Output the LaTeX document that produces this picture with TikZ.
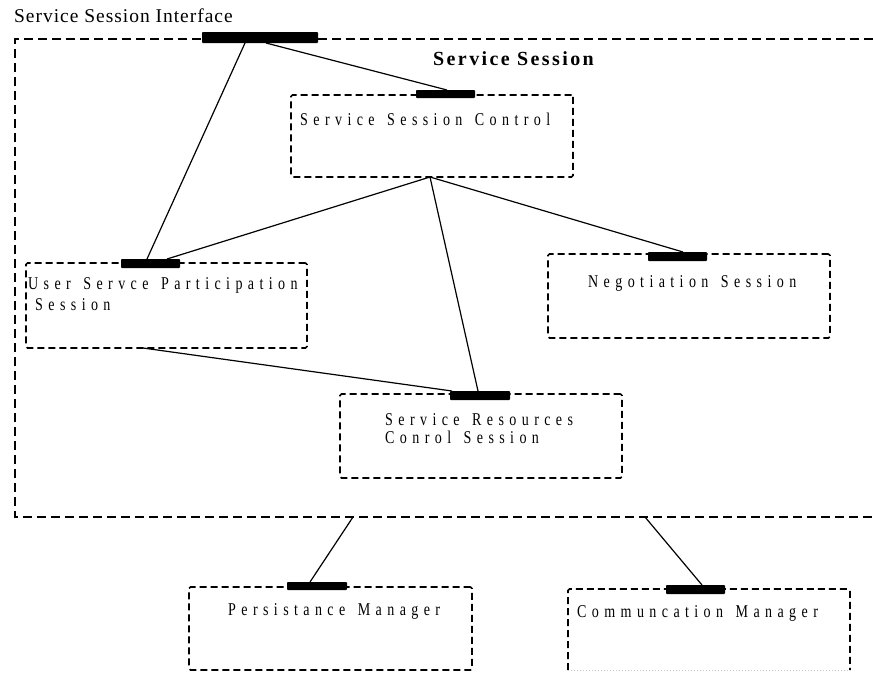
\documentclass[tikz,border=0pt]{standalone}
\usepackage{fontspec}
\setmainfont{Liberation Serif}
% spaced, slightly condensed face for the component names
\newfontfamily\boxfont[FakeStretch=0.78,LetterSpace=30,WordSpace=1.4]{Liberation Serif}
\newfontfamily\labelfont[LetterSpace=5]{Liberation Serif}
\newfontfamily\titlefont[LetterSpace=12]{Liberation Serif}
\begin{document}
\begin{tikzpicture}[x=1pt,y=-1pt,
  outerline/.style={line width=1.8pt, dash pattern=on 9pt off 5pt},
  boxline/.style={line width=1.6pt, dash pattern=on 7pt off 4pt, rounded corners=1.5pt},
  box/.style={draw, boxline, inner sep=0pt, outer sep=0pt},
  openbox/.style={draw=none, inner sep=0pt, outer sep=0pt},
  bar/.style={fill=black, inner sep=0pt, outer sep=0pt, rounded corners=0.8pt},
  link/.style={line width=1.2pt},
  boxtext/.style={anchor=base west, inner sep=0pt, font={\boxfont\fontsize{18}{19}\selectfont}},
  iftext/.style={anchor=base west, inner sep=0pt, font={\labelfont\fontsize{19.5}{21}\selectfont}},
  titletext/.style={anchor=base west, inner sep=0pt, font={\titlefont\bfseries\fontsize{20}{21}\selectfont}}]
\useasboundingbox (0,0) rectangle (873,673);

% service session container, open on the right
\coordinate (ssTR) at (873,39);
\coordinate (ssTL) at (15,39);
\coordinate (ssBL) at (15,517);
\coordinate (ssBR) at (873,517);
\draw[outerline] (ssTR) -- (ssTL) -- (ssBL) -- (ssBR);
\coordinate (ssOutA) at (353,517);
\coordinate (ssOutB) at (645,517);

% component boxes
\node[box, minimum width=282pt, minimum height=82pt] (ssc) at (432,136) {};
\node[box, minimum width=281pt, minimum height=85pt] (usp) at (166.5,305.5) {};
\node[box, minimum width=282pt, minimum height=84pt] (neg) at (689,296) {};
\node[box, minimum width=282pt, minimum height=84pt] (src) at (481,436) {};
\node[box, minimum width=283pt, minimum height=83pt] (pm) at (330.5,628.5) {};
\node[openbox, minimum width=282pt, minimum height=81pt] (cm) at (709,629.5) {};
\draw[boxline] (cm.south west) -- (cm.north west) -- (cm.north east) -- (cm.south east);
\draw[line width=1pt, dotted, gray!45] (cm.south west) -- (cm.south east);

% interface bars
\node[bar, minimum width=116pt, minimum height=11pt] (ifbar) at (260,37.5) {};
\node[bar, minimum width=59pt, minimum height=8pt] (sscbar) at (445.5,94) {};
\node[bar, minimum width=59pt, minimum height=9pt] (uspbar) at (150.5,263.5) {};
\node[bar, minimum width=59pt, minimum height=9pt] (negbar) at (677.5,256.5) {};
\node[bar, minimum width=60pt, minimum height=9pt] (srcbar) at (480,395.5) {};
\node[bar, minimum width=60pt, minimum height=8pt] (pmbar) at (317,586) {};
\node[bar, minimum width=59pt, minimum height=9pt] (cmbar) at (695.5,589.5) {};

% labels
\node[iftext] (iflabel) at (14,22) {Service Session Interface};
\node[titletext] (sstitle) at (433,65) {Service Session};
\node[boxtext] (ssclabel) at (300,125) {Service Session Control};
\node[boxtext] (usplabelA) at (28,289) {User Servce Participation};
\node[boxtext] (usplabelB) at (35,310) {Session};
\node[boxtext] (neglabel) at (588,287) {Negotiation Session};
\node[boxtext] (srclabelA) at (385,425) {Service Resources};
\node[boxtext] (srclabelB) at (385,443) {Conrol Session};
\node[boxtext] (pmlabel) at (228,615) {Persistance Manager};
\node[boxtext] (cmlabel) at (577,617) {Communcation Manager};

% connectors
\draw[link] ([xshift=-15pt]ifbar.south) -- ([xshift=-3.5pt]uspbar.north);
\draw[link] ([xshift=6pt]ifbar.south) -- ([xshift=1.5pt]sscbar.north);
\draw[link] ([xshift=-2pt]ssc.south) -- ([xshift=16.5pt]uspbar.north);
\draw[link] ([xshift=-2pt]ssc.south) -- ([xshift=5.5pt]negbar.north);
\draw[link] ([xshift=-2pt]ssc.south) -- ([xshift=-2pt]srcbar.north);
\draw[link] ([xshift=-23.5pt]usp.south) -- ([xshift=-28pt]srcbar.north);
\draw[link] (ssOutA) -- ([xshift=-7pt]pmbar.north);
\draw[link] (ssOutB) -- ([xshift=6.5pt]cmbar.north);
\end{tikzpicture}
\end{document}
